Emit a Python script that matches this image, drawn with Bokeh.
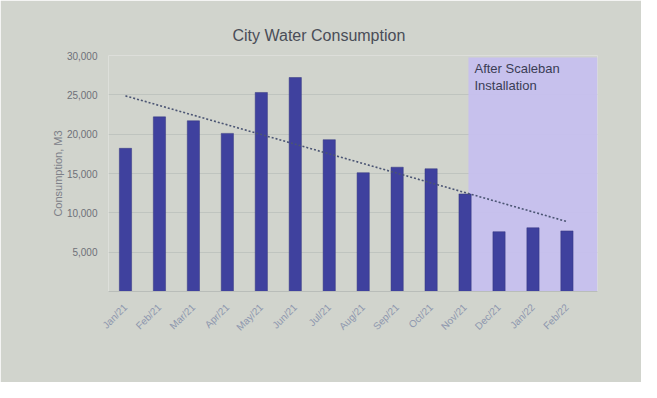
import numpy as np
from bokeh.plotting import figure
from bokeh.models import Range1d, FixedTicker, NumeralTickFormatter, Label
from bokeh.embed import file_html
from bokeh.resources import INLINE

# ---- data ----
months = ["Jan/21", "Feb/21", "Mar/21", "Apr/21", "May/21", "Jun/21", "Jul/21",
          "Aug/21", "Sep/21", "Oct/21", "Nov/21", "Dec/21", "Jan/22", "Feb/22"]
consumption = [18200, 22200, 21700, 20100, 25300, 27200, 19300,
               15100, 15800, 15600, 12400, 7600, 8100, 7700]
y_ticks = [5000, 10000, 15000, 20000, 25000, 30000]
after_label = "After Scaleban\nInstallation"
after_from = "Nov/21"

x = np.arange(len(months))
coef = np.polyfit(x, consumption, 1)
trend = np.polyval(coef, x)

p = figure(width=641, height=382, output_backend="svg", toolbar_location=None,
           x_range=Range1d(-0.5, len(months) - 0.1), y_range=Range1d(0, 30000),
           min_border_left=108, min_border_right=44, min_border_top=55,
           min_border_bottom=91)
bg = "#d1d4cd"
p.background_fill_color = bg
p.border_fill_color = bg
p.outline_line_color = None

# title
p.title.text = "City Water Consumption"
p.title.align = "left"
p.title.offset = 124
p.title.text_font = "Liberation Sans"
p.title.text_font_size = "16px"
p.title.text_font_style = "normal"
p.title.text_color = "#4a4d57"
p.title.standoff = 23

# shaded region
box_left = months.index(after_from) + 0.1
p.quad(left=[box_left], right=[len(months) - 0.1], bottom=[0], top=[29750],
       fill_color="#c6c0ee", fill_alpha=0.95, line_color=None)

p.vbar(x=x, top=consumption, width=0.36, fill_color="#3f419e", line_color="#34367f",
       line_width=0.5)

p.line(x=x, y=trend, line_dash="2 2", line_color="#4b5573", line_width=1.6)

p.add_layout(Label(x=box_left, y=29750, x_offset=6, y_offset=-4, text=after_label,
                   text_baseline="top", text_font="Liberation Sans", text_font_size="13px",
                   text_color="#3a3d55", text_line_height=1.1))

# axes
yax = p.yaxis[0]
yax.ticker = FixedTicker(ticks=y_ticks)
yax.formatter = NumeralTickFormatter(format="0,0")
yax.axis_line_color = None
yax.major_tick_line_color = None
yax.minor_tick_line_color = None
yax.major_label_text_font = "Liberation Sans"
yax.major_label_text_font_size = "10px"
yax.major_label_text_color = "#6e7078"
yax.major_label_standoff = 5
yax.axis_label = "Consumption, M3"
yax.axis_label_text_font = "Liberation Sans"
yax.axis_label_text_font_size = "11px"
yax.axis_label_text_font_style = "normal"
yax.axis_label_text_color = "#7d8088"
yax.axis_label_standoff = 0

xax = p.xaxis[0]
xax.ticker = FixedTicker(ticks=list(x))
xax.major_label_overrides = {int(i): m for i, m in zip(x, months)}
xax.major_label_orientation = np.pi / 4
xax.axis_line_color = "#b9bdb9"
xax.major_tick_line_color = None
xax.minor_tick_line_color = None
xax.major_label_text_font = "Liberation Sans"
xax.major_label_text_font_size = "10px"
xax.major_label_text_color = "#8e97ad"
xax.major_label_standoff = 8

p.xgrid.grid_line_color = None
p.ygrid.grid_line_color = "#bfc4bf"
p.ygrid.grid_line_width = 1

open("out.html", "w").write(file_html(p, INLINE))
